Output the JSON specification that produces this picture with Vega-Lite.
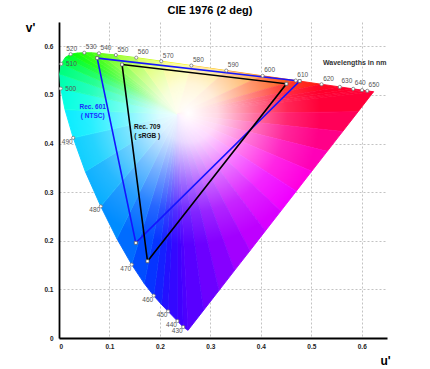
{
  "$schema": "https://vega.github.io/schema/vega-lite/v6.json",
  "width": 328,
  "height": 316,
  "autosize": "none",
  "padding": {"left": 59, "top": 22, "right": 43, "bottom": 31},
  "background": "white",
  "title": {"text": "CIE 1976 (2 deg)", "anchor": "middle", "frame": "group", "dx": -13, "offset": 5, "font": "Liberation Sans", "fontSize": 11, "fontWeight": "bold", "color": "#000"},
  "config": {"view": {"stroke": null}},
  "datasets": {
    "locus": [
      {"wl": 400, "u": 0.2557, "v": 0.0159}, {"wl": 430, "u": 0.2461, "v": 0.0226}, {"wl": 440, "u": 0.2347, "v": 0.035},
      {"wl": 450, "u": 0.2161, "v": 0.0549}, {"wl": 455, "u": 0.2033, "v": 0.0688}, {"wl": 460, "u": 0.1877, "v": 0.0871},
      {"wl": 465, "u": 0.169, "v": 0.112}, {"wl": 470, "u": 0.1441, "v": 0.151}, {"wl": 475, "u": 0.1147, "v": 0.2044},
      {"wl": 480, "u": 0.0828, "v": 0.2708}, {"wl": 485, "u": 0.0521, "v": 0.3427}, {"wl": 490, "u": 0.0282, "v": 0.4117},
      {"wl": 495, "u": 0.0119, "v": 0.4698}, {"wl": 500, "u": 0.0035, "v": 0.5131}, {"wl": 505, "u": 0.0014, "v": 0.5432},
      {"wl": 510, "u": 0.0046, "v": 0.5638}, {"wl": 515, "u": 0.0123, "v": 0.577}, {"wl": 520, "u": 0.0231, "v": 0.5837},
      {"wl": 525, "u": 0.036, "v": 0.5861}, {"wl": 530, "u": 0.0501, "v": 0.5868}, {"wl": 535, "u": 0.0643, "v": 0.5865},
      {"wl": 540, "u": 0.0792, "v": 0.5856}, {"wl": 550, "u": 0.1127, "v": 0.5821}, {"wl": 560, "u": 0.1531, "v": 0.5766},
      {"wl": 570, "u": 0.2026, "v": 0.5694}, {"wl": 580, "u": 0.2623, "v": 0.5604}, {"wl": 590, "u": 0.3315, "v": 0.5501},
      {"wl": 600, "u": 0.4035, "v": 0.5393}, {"wl": 610, "u": 0.4692, "v": 0.5296}, {"wl": 620, "u": 0.5203, "v": 0.5219},
      {"wl": 630, "u": 0.5565, "v": 0.5165}, {"wl": 640, "u": 0.583, "v": 0.5125}, {"wl": 650, "u": 0.6005, "v": 0.5099},
      {"wl": 660, "u": 0.6109, "v": 0.5084}, {"wl": 700, "u": 0.6234, "v": 0.5065}
    ],
    "sectors": [
      {"s":1,"o":0,"u":0.235,"v":0.46},{"s":1,"o":1,"u":0.2557,"v":0.0159},{"s":1,"o":2,"u":0.2461,"v":0.0226},
      {"s":2,"o":0,"u":0.235,"v":0.46},{"s":2,"o":1,"u":0.2461,"v":0.0226},{"s":2,"o":2,"u":0.2347,"v":0.035},
      {"s":3,"o":0,"u":0.235,"v":0.46},{"s":3,"o":1,"u":0.2347,"v":0.035},{"s":3,"o":2,"u":0.2161,"v":0.0549},
      {"s":4,"o":0,"u":0.235,"v":0.46},{"s":4,"o":1,"u":0.2161,"v":0.0549},{"s":4,"o":2,"u":0.2033,"v":0.0688},
      {"s":5,"o":0,"u":0.235,"v":0.46},{"s":5,"o":1,"u":0.2033,"v":0.0688},{"s":5,"o":2,"u":0.1877,"v":0.0871},
      {"s":6,"o":0,"u":0.235,"v":0.46},{"s":6,"o":1,"u":0.1877,"v":0.0871},{"s":6,"o":2,"u":0.169,"v":0.112},
      {"s":7,"o":0,"u":0.235,"v":0.46},{"s":7,"o":1,"u":0.169,"v":0.112},{"s":7,"o":2,"u":0.1441,"v":0.151},
      {"s":8,"o":0,"u":0.235,"v":0.46},{"s":8,"o":1,"u":0.1441,"v":0.151},{"s":8,"o":2,"u":0.1147,"v":0.2044},
      {"s":9,"o":0,"u":0.235,"v":0.46},{"s":9,"o":1,"u":0.1147,"v":0.2044},{"s":9,"o":2,"u":0.0828,"v":0.2708},
      {"s":10,"o":0,"u":0.235,"v":0.46},{"s":10,"o":1,"u":0.0828,"v":0.2708},{"s":10,"o":2,"u":0.0521,"v":0.3427},
      {"s":11,"o":0,"u":0.235,"v":0.46},{"s":11,"o":1,"u":0.0521,"v":0.3427},{"s":11,"o":2,"u":0.0282,"v":0.4117},
      {"s":12,"o":0,"u":0.235,"v":0.46},{"s":12,"o":1,"u":0.0282,"v":0.4117},{"s":12,"o":2,"u":0.0119,"v":0.4698},
      {"s":13,"o":0,"u":0.235,"v":0.46},{"s":13,"o":1,"u":0.0119,"v":0.4698},{"s":13,"o":2,"u":0.0035,"v":0.5131},
      {"s":14,"o":0,"u":0.235,"v":0.46},{"s":14,"o":1,"u":0.0035,"v":0.5131},{"s":14,"o":2,"u":0.0014,"v":0.5432},
      {"s":15,"o":0,"u":0.235,"v":0.46},{"s":15,"o":1,"u":0.0014,"v":0.5432},{"s":15,"o":2,"u":0.0046,"v":0.5638},
      {"s":16,"o":0,"u":0.235,"v":0.46},{"s":16,"o":1,"u":0.0046,"v":0.5638},{"s":16,"o":2,"u":0.0123,"v":0.577},
      {"s":17,"o":0,"u":0.235,"v":0.46},{"s":17,"o":1,"u":0.0123,"v":0.577},{"s":17,"o":2,"u":0.0231,"v":0.5837},
      {"s":18,"o":0,"u":0.235,"v":0.46},{"s":18,"o":1,"u":0.0231,"v":0.5837},{"s":18,"o":2,"u":0.036,"v":0.5861},
      {"s":19,"o":0,"u":0.235,"v":0.46},{"s":19,"o":1,"u":0.036,"v":0.5861},{"s":19,"o":2,"u":0.0501,"v":0.5868},
      {"s":20,"o":0,"u":0.235,"v":0.46},{"s":20,"o":1,"u":0.0501,"v":0.5868},{"s":20,"o":2,"u":0.0643,"v":0.5865},
      {"s":21,"o":0,"u":0.235,"v":0.46},{"s":21,"o":1,"u":0.0643,"v":0.5865},{"s":21,"o":2,"u":0.0792,"v":0.5856},
      {"s":22,"o":0,"u":0.235,"v":0.46},{"s":22,"o":1,"u":0.0792,"v":0.5856},{"s":22,"o":2,"u":0.1127,"v":0.5821},
      {"s":23,"o":0,"u":0.235,"v":0.46},{"s":23,"o":1,"u":0.1127,"v":0.5821},{"s":23,"o":2,"u":0.1531,"v":0.5766},
      {"s":24,"o":0,"u":0.235,"v":0.46},{"s":24,"o":1,"u":0.1531,"v":0.5766},{"s":24,"o":2,"u":0.2026,"v":0.5694},
      {"s":25,"o":0,"u":0.235,"v":0.46},{"s":25,"o":1,"u":0.2026,"v":0.5694},{"s":25,"o":2,"u":0.2623,"v":0.5604},
      {"s":26,"o":0,"u":0.235,"v":0.46},{"s":26,"o":1,"u":0.2623,"v":0.5604},{"s":26,"o":2,"u":0.3315,"v":0.5501},
      {"s":27,"o":0,"u":0.235,"v":0.46},{"s":27,"o":1,"u":0.3315,"v":0.5501},{"s":27,"o":2,"u":0.4035,"v":0.5393},
      {"s":28,"o":0,"u":0.235,"v":0.46},{"s":28,"o":1,"u":0.4035,"v":0.5393},{"s":28,"o":2,"u":0.4692,"v":0.5296},
      {"s":29,"o":0,"u":0.235,"v":0.46},{"s":29,"o":1,"u":0.4692,"v":0.5296},{"s":29,"o":2,"u":0.5203,"v":0.5219},
      {"s":30,"o":0,"u":0.235,"v":0.46},{"s":30,"o":1,"u":0.5203,"v":0.5219},{"s":30,"o":2,"u":0.5565,"v":0.5165},
      {"s":31,"o":0,"u":0.235,"v":0.46},{"s":31,"o":1,"u":0.5565,"v":0.5165},{"s":31,"o":2,"u":0.583,"v":0.5125},
      {"s":32,"o":0,"u":0.235,"v":0.46},{"s":32,"o":1,"u":0.583,"v":0.5125},{"s":32,"o":2,"u":0.6005,"v":0.5099},
      {"s":33,"o":0,"u":0.235,"v":0.46},{"s":33,"o":1,"u":0.6005,"v":0.5099},{"s":33,"o":2,"u":0.6109,"v":0.5084},
      {"s":34,"o":0,"u":0.235,"v":0.46},{"s":34,"o":1,"u":0.6109,"v":0.5084},{"s":34,"o":2,"u":0.6234,"v":0.5065},
      {"s":35,"o":0,"u":0.235,"v":0.46},{"s":35,"o":1,"u":0.6234,"v":0.5065},{"s":35,"o":2,"u":0.5928,"v":0.4656},
      {"s":36,"o":0,"u":0.235,"v":0.46},{"s":36,"o":1,"u":0.5928,"v":0.4656},{"s":36,"o":2,"u":0.5621,"v":0.4247},
      {"s":37,"o":0,"u":0.235,"v":0.46},{"s":37,"o":1,"u":0.5621,"v":0.4247},{"s":37,"o":2,"u":0.5315,"v":0.3839},
      {"s":38,"o":0,"u":0.235,"v":0.46},{"s":38,"o":1,"u":0.5315,"v":0.3839},{"s":38,"o":2,"u":0.5008,"v":0.343},
      {"s":39,"o":0,"u":0.235,"v":0.46},{"s":39,"o":1,"u":0.5008,"v":0.343},{"s":39,"o":2,"u":0.4702,"v":0.3021},
      {"s":40,"o":0,"u":0.235,"v":0.46},{"s":40,"o":1,"u":0.4702,"v":0.3021},{"s":40,"o":2,"u":0.4396,"v":0.2612},
      {"s":41,"o":0,"u":0.235,"v":0.46},{"s":41,"o":1,"u":0.4396,"v":0.2612},{"s":41,"o":2,"u":0.4089,"v":0.2203},
      {"s":42,"o":0,"u":0.235,"v":0.46},{"s":42,"o":1,"u":0.4089,"v":0.2203},{"s":42,"o":2,"u":0.3783,"v":0.1794},
      {"s":43,"o":0,"u":0.235,"v":0.46},{"s":43,"o":1,"u":0.3783,"v":0.1794},{"s":43,"o":2,"u":0.3476,"v":0.1386},
      {"s":44,"o":0,"u":0.235,"v":0.46},{"s":44,"o":1,"u":0.3476,"v":0.1386},{"s":44,"o":2,"u":0.317,"v":0.0977},
      {"s":45,"o":0,"u":0.235,"v":0.46},{"s":45,"o":1,"u":0.317,"v":0.0977},{"s":45,"o":2,"u":0.2863,"v":0.0568},
      {"s":46,"o":0,"u":0.235,"v":0.46},{"s":46,"o":1,"u":0.2863,"v":0.0568},{"s":46,"o":2,"u":0.2557,"v":0.0159}
    ],
    "gamut": [
      {"g": "601", "o": 0, "u": 0.0757, "v": 0.5757}, {"g": "601", "o": 1, "u": 0.4769, "v": 0.5285},
      {"g": "601", "o": 2, "u": 0.1522, "v": 0.1957}, {"g": "601", "o": 3, "u": 0.0757, "v": 0.5757},
      {"g": "709", "o": 0, "u": 0.125, "v": 0.5625}, {"g": "709", "o": 1, "u": 0.4507, "v": 0.5229},
      {"g": "709", "o": 2, "u": 0.1754, "v": 0.1579}, {"g": "709", "o": 3, "u": 0.125, "v": 0.5625}
    ],
    "notes": [
      {"k": "w", "t": "Wavelengths in nm", "u": 0.586, "v": 0.565},
      {"k": "601", "t": "Rec. 601", "u": 0.0668, "v": 0.475},
      {"k": "601", "t": "( NTSC)", "u": 0.0668, "v": 0.4565},
      {"k": "709", "t": "Rec. 709", "u": 0.1747, "v": 0.4339},
      {"k": "709", "t": "( sRGB )", "u": 0.1747, "v": 0.4162}
    ]
  },
  "encoding": {
    "x": {"field": "u", "type": "quantitative", "scale": {"domain": [0, 0.65], "nice": false, "zero": false},
      "axis": {"title": "u'", "values": [0, 0.1, 0.2, 0.3, 0.4, 0.5, 0.6], "format": ".1~f", "grid": true, "gridDash": [2, 2], "gridColor": "#b4b4b4", "gridWidth": 0.8, "ticks": false, "domainColor": "#000", "domainWidth": 1.8, "labelFont": "Liberation Sans", "labelFontWeight": "bold", "labelFontSize": 6.5, "labelColor": "#222", "labelPadding": 5, "titleFont": "Liberation Sans", "titleFontSize": 12, "titleFontWeight": "bold", "titleColor": "#000", "titleX": 326, "titleY": 22, "titleAlign": "center", "titleBaseline": "middle"}},
    "y": {"field": "v", "type": "quantitative", "scale": {"domain": [0, 0.65], "nice": false, "zero": false},
      "axis": {"title": "v'", "values": [0, 0.1, 0.2, 0.3, 0.4, 0.5, 0.6], "format": ".1~f", "grid": true, "gridDash": [2, 2], "gridColor": "#b4b4b4", "gridWidth": 0.8, "ticks": false, "domainColor": "#000", "domainWidth": 1.8, "labelFont": "Liberation Sans", "labelFontWeight": "bold", "labelFontSize": 6.5, "labelColor": "#222", "labelPadding": 6, "titleFont": "Liberation Sans", "titleFontSize": 12, "titleFontWeight": "bold", "titleColor": "#000", "titleAngle": 0, "titleX": -29, "titleY": 5, "titleAlign": "center", "titleBaseline": "middle"}}
  },
  "layer": [
    {
      "data": {"name": "sectors"},
      "mark": {"type": "line", "filled": true, "strokeWidth": 0.9},
      "encoding": {
        "color": {"field": "s", "type": "ordinal", "legend": null, "scale": {"domain": [1,2,3,4,5,6,7,8,9,10,11,12,13,14,15,16,17,18,19,20,21,22,23,24,25,26,27,28,29,30,31,32,33,34,35,36,37,38,39,40,41,42,43,44,45,46], "range": ["#4c00ff","#4000ff","#3408ff","#2410ff","#1420ff","#0634ff","#004cff","#006cff","#008cff","#00acff","#00ccff","#00ecff","#00ffe0","#00ffb0","#00ff80","#00ff50","#00ff28","#08ff08","#18ff00","#28ff00","#3cff00","#5cff00","#8cff00","#c4ff00","#f4f400","#ffc000","#ff8400","#ff4800","#ff1c10","#ff0824","#ff002c","#ff0030","#ff0034","#ff0036","#ff0038","#ff0058","#ff0088","#ff00b8","#ff00e0","#f000ff","#d800ff","#be00ff","#a200ff","#8600ff","#6c00ff","#5800ff"]}},
        "stroke": {"field": "s", "type": "ordinal", "legend": null, "scale": {"domain": [1,2,3,4,5,6,7,8,9,10,11,12,13,14,15,16,17,18,19,20,21,22,23,24,25,26,27,28,29,30,31,32,33,34,35,36,37,38,39,40,41,42,43,44,45,46], "range": ["#4c00ff","#4000ff","#3408ff","#2410ff","#1420ff","#0634ff","#004cff","#006cff","#008cff","#00acff","#00ccff","#00ecff","#00ffe0","#00ffb0","#00ff80","#00ff50","#00ff28","#08ff08","#18ff00","#28ff00","#3cff00","#5cff00","#8cff00","#c4ff00","#f4f400","#ffc000","#ff8400","#ff4800","#ff1c10","#ff0824","#ff002c","#ff0030","#ff0034","#ff0036","#ff0038","#ff0058","#ff0088","#ff00b8","#ff00e0","#f000ff","#d800ff","#be00ff","#a200ff","#8600ff","#6c00ff","#5800ff"]}},
        "order": {"field": "o", "type": "quantitative"}
      }
    },
    {
      "data": {"name": "locus"},
      "mark": {"type": "line", "filled": true, "strokeOpacity": 0,
        "fill": {"gradient": "radial", "x1": 0.41, "y1": 0.25, "r1": 0, "x2": 0.41, "y2": 0.25, "r2": 0.42,
          "stops": [{"offset": 0, "color": "rgba(255,255,255,1)"}, {"offset": 0.22, "color": "rgba(255,255,255,0.85)"}, {"offset": 0.5, "color": "rgba(255,255,255,0.45)"}, {"offset": 0.75, "color": "rgba(255,255,255,0.15)"}, {"offset": 1, "color": "rgba(255,255,255,0)"}]}},
      "encoding": {"order": {"field": "wl", "type": "quantitative"}}
    },
    {
      "data": {"name": "gamut"},
      "transform": [{"filter": "datum.g == '601'"}],
      "mark": {"type": "line", "strokeWidth": 1.6, "color": "#1414ff"},
      "encoding": {"order": {"field": "o", "type": "quantitative"}}
    },
    {
      "data": {"name": "gamut"},
      "transform": [{"filter": "datum.g == '709'"}],
      "mark": {"type": "line", "strokeWidth": 1.6, "color": "#000000"},
      "encoding": {"order": {"field": "o", "type": "quantitative"}}
    },
    {
      "data": {"name": "gamut"},
      "transform": [{"filter": "datum.o < 3"}],
      "mark": {"type": "square", "size": 9, "filled": true, "fill": "white", "stroke": "#555", "strokeWidth": 0.7, "opacity": 1}
    },
    {
      "data": {"name": "locus"},
      "transform": [{"filter": "datum.wl >= 430 && datum.wl <= 660 && datum.wl % 10 == 0"}],
      "mark": {"type": "circle", "size": 10, "fill": "white", "stroke": "#777", "strokeWidth": 0.8, "opacity": 1}
    },
    {
      "data": {"name": "locus"},
      "transform": [{"filter": "datum.wl >= 530 && datum.wl <= 640 && datum.wl % 10 == 0"}],
      "mark": {"type": "text", "dx": 7, "dy": -5.5, "font": "Liberation Sans", "fontSize": 6.5, "color": "#555"},
      "encoding": {"text": {"field": "wl", "type": "nominal"}}
    },
    {
      "data": {"name": "locus"},
      "transform": [{"filter": "datum.wl == 650"}],
      "mark": {"type": "text", "dx": 12, "dy": -5.5, "font": "Liberation Sans", "fontSize": 6.5, "color": "#555"},
      "encoding": {"text": {"field": "wl", "type": "nominal"}}
    },
    {
      "data": {"name": "locus"},
      "transform": [{"filter": "datum.wl == 520"}],
      "mark": {"type": "text", "dx": 1, "dy": -5.5, "font": "Liberation Sans", "fontSize": 6.5, "color": "#555"},
      "encoding": {"text": {"field": "wl", "type": "nominal"}}
    },
    {
      "data": {"name": "locus"},
      "transform": [{"filter": "datum.wl == 500 || datum.wl == 510"}],
      "mark": {"type": "text", "dx": 10, "dy": 0, "font": "Liberation Sans", "fontSize": 6.5, "color": "#555"},
      "encoding": {"text": {"field": "wl", "type": "nominal"}}
    },
    {
      "data": {"name": "locus"},
      "transform": [{"filter": "datum.wl >= 430 && datum.wl <= 490 && datum.wl % 10 == 0"}],
      "mark": {"type": "text", "dx": -6, "dy": 4, "font": "Liberation Sans", "fontSize": 6.5, "color": "#555"},
      "encoding": {"text": {"field": "wl", "type": "nominal"}}
    },
    {
      "data": {"name": "notes"},
      "transform": [{"filter": "datum.k == 'w'"}],
      "mark": {"type": "text", "font": "Liberation Sans", "fontSize": 7, "fontWeight": "bold", "color": "#333"},
      "encoding": {"text": {"field": "t", "type": "nominal"}}
    },
    {
      "data": {"name": "notes"},
      "transform": [{"filter": "datum.k == '601'"}],
      "mark": {"type": "text", "font": "Liberation Sans", "fontSize": 6.5, "fontWeight": "bold", "color": "#1a2cff"},
      "encoding": {"text": {"field": "t", "type": "nominal"}}
    },
    {
      "data": {"name": "notes"},
      "transform": [{"filter": "datum.k == '709'"}],
      "mark": {"type": "text", "font": "Liberation Sans", "fontSize": 6.5, "fontWeight": "bold", "color": "#111"},
      "encoding": {"text": {"field": "t", "type": "nominal"}}
    }
  ]
}
